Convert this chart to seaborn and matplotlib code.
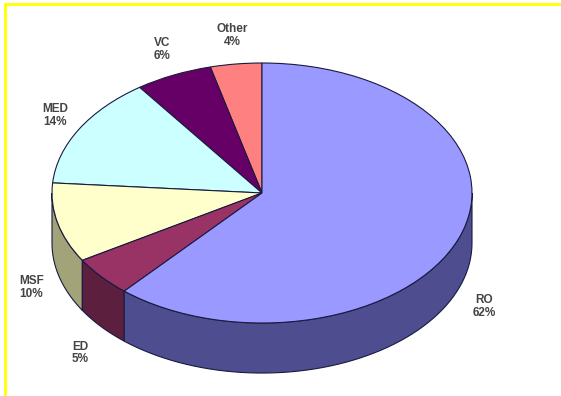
import numpy as np
import seaborn as sns
import matplotlib
matplotlib.use("Agg")
import matplotlib.pyplot as plt
from matplotlib.patches import Polygon
from matplotlib.lines import Line2D

# donnees du camembert (ordre anti-horaire depuis le haut)
labels = ["Other", "VC", "MED", "MSF", "ED", "RO"]
values = [4, 6, 14, 10, 5, 62]
colors = ["#ff8080", "#660066", "#ccffff", "#ffffcc", "#993366", "#9999ff"]
side_colors = ["#b35a5a", "#3d003d", "#8fb3b3", "#a3a37a", "#5c1f3d", "#4d4d8f"]

sns.set_theme(style="white")
plt.rcParams['font.family'] = ['Liberation Sans', 'DejaVu Sans']

fig = plt.figure(figsize=(5.61, 3.96), dpi=100)
ax = fig.add_axes([0, 0, 1, 1])

depth = 0.385
edge = "#1a1a40"

# epaisseur du camembert : on dessine les cotes visibles (moitie avant)
fracs = np.array(values) / sum(values)
starts = 90 + 360 * np.concatenate([[0], np.cumsum(fracs)[:-1]])
ends = starts + 360 * fracs
for a0, a1, c in zip(starts, ends, side_colors):
    for off in (0, 360):
        lo = max(a0, 180 + off)
        hi = min(a1, 360 + off)
        if hi <= lo:
            continue
        t = np.radians(np.linspace(lo, hi, 60))
        top = np.column_stack([np.cos(t), np.sin(t)])
        bot = np.column_stack([np.cos(t[::-1]), np.sin(t[::-1]) - depth])
        ax.add_patch(Polygon(np.vstack([top, bot]), closed=True, facecolor=c,
                             edgecolor=edge, linewidth=0.8, zorder=1))

wedges, _ = ax.pie(values, colors=colors, startangle=90, counterclock=True,
                   radius=1, wedgeprops=dict(edgecolor=edge, linewidth=0.8))
for w in wedges:
    w.set_zorder(2)

# etiquettes
for a0, a1, lab, v in zip(starts, ends, labels, values):
    mid = np.radians((a0 + a1) / 2)
    x = 1.13 * np.cos(mid)
    y = 1.22 * np.sin(mid)
    if np.sin(mid) < 0:
        y -= depth + 0.06
    ax.text(x, y, f"{lab}\n{v}%", ha="center", va="center", fontsize=8.5,
            fontweight="bold", color="#444444", linespacing=1.1, zorder=3)

ax.set_aspect("auto")
ax.set_xlim(-262 / 210, (561 - 262) / 210)
ax.set_ylim(-203 / 130, (396 - 203) / 130)
ax.axis("off")

# cadre jaune (haut et gauche)
fig.add_artist(Line2D([0.009, 1], [0.99, 0.99], color="#ffff00", linewidth=2,
                      transform=fig.transFigure))
fig.add_artist(Line2D([0.009, 0.009], [0, 0.99], color="#ffff00", linewidth=2,
                      transform=fig.transFigure))

fig.savefig("out.png", dpi=100)
